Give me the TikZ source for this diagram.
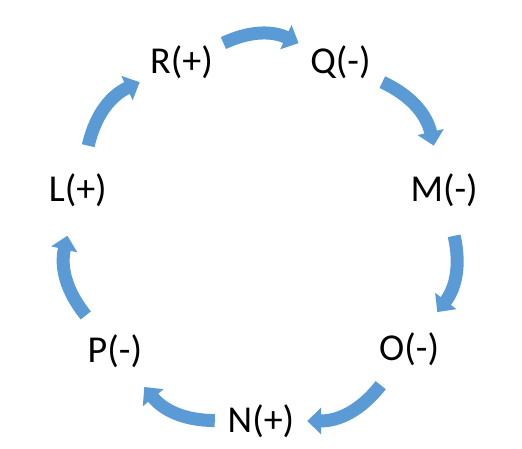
\documentclass[tikz,border=0pt]{standalone}
\usepackage{fontspec}
\setmainfont{Carlito}
\usetikzlibrary{arrows.meta, positioning}
\definecolor{cycleblue}{HTML}{5B9BD5}
\tikzset{
  -{Triangle[length=14pt, width=26pt]}, % every edge ends in a wide head
  every edge/.style={draw=cycleblue, line width=13pt}, % thick blue
  % arcs between the signs
  sign/.style={circle, minimum size=92pt, inner sep=0pt,
    font=\fontsize{38pt}{40pt}\selectfont}, % invisible ring round
  % each label, keeps the gap
}

\begin{document}
\begin{tikzpicture}
    \useasboundingbox (-261pt,-216pt) rectangle (261pt,233pt);

    \node[sign] (R) at (115:188pt) {R(+)};
    \node[sign] (Q) at (65:188pt) {Q(-)};
    \node[sign] (M) at (13:188pt) {M(-)};
    \node[sign] (O) at (-38:188pt) {O(-)};
    \node[sign] (N) at (-90:188pt) {N(+)};
    \node[sign] (P) at (219:188pt) {P(-)};
    \node[sign] (L) at (167:188pt) {L(+)};

    \draw
    (R) edge[bend left=25] (Q)
    (Q) edge[bend left=26] (M)
    (M) edge[bend left=25] (O)
    (O) edge[bend left=26] (N)
    (N) edge[bend left=25] (P)
    (P) edge[bend left=26] (L)
    (L) edge[bend left=26] (R)
    ;
\end{tikzpicture}
\end{document}
